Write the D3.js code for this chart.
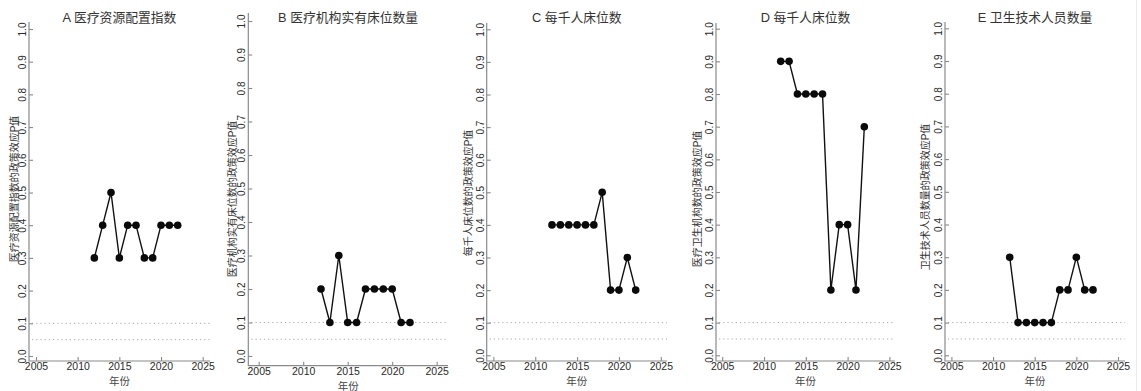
<!DOCTYPE html>
<html>
<head>
<meta charset="utf-8">
<script src="https://cdn.jsdelivr.net/npm/d3@7"></script>
<style>
  html, body { margin: 0; padding: 0; background: #ffffff; }
  svg { display: block; }
  text { font-family: "Liberation Sans", Arial, "Noto Sans CJK SC", sans-serif; }
</style>
</head>
<body>
<svg id="chart" width="1141" height="391"></svg>
<script>
// Yearly P values of the policy effect, one series per indicator
const years = [2012, 2013, 2014, 2015, 2016, 2017, 2018, 2019, 2020, 2021, 2022];
const pA = [0.3, 0.4, 0.5, 0.3, 0.4, 0.4, 0.3, 0.3, 0.4, 0.4, 0.4];
const pB = [0.2, 0.1, 0.3, 0.1, 0.1, 0.2, 0.2, 0.2, 0.2, 0.1, 0.1];
const pC = [0.4, 0.4, 0.4, 0.4, 0.4, 0.4, 0.5, 0.2, 0.2, 0.3, 0.2];
const pD = [0.9, 0.9, 0.8, 0.8, 0.8, 0.8, 0.2, 0.4, 0.4, 0.2, 0.7];
const pE = [0.3, 0.1, 0.1, 0.1, 0.1, 0.1, 0.2, 0.2, 0.3, 0.2, 0.2];

const titles = ["A 医疗资源配置指数", "B 医疗机构实有床位数量", "C 每千人床位数", "D 每千人床位数", "E 卫生技术人员数量"];
const yTitles = ["医疗资源配置指数的政策效应P值", "医疗机构实有床位数的政策效应P值", "每千人床位数的政策效应P值", "医疗卫生机构数的政策效应P值", "卫生技术人员数量的政策效应P值"];
const xTitle = "年份";

const xTicks = [2005, 2010, 2015, 2020, 2025];
const yTicks = [0.0, 0.1, 0.2, 0.3, 0.4, 0.5, 0.6, 0.7, 0.8, 0.9, 1.0];
const refLines = [0.1, 0.05];

const series = [pA, pB, pC, pD, pE];

// Panel frames in pixels: x of 2005/2025, y of 0/1, and the L-shaped box edges
const frames = [
  { xa: 36,    xb: 202.7, ya: 356,   yb: 29,   L: 29,    B: 361,   T: 22, R: 210,  ylx: 14,  yly: 189, xly: 381 },
  { xa: 258.7, xb: 436.7, ya: 356,   yb: 21,   L: 248.3, B: 365.7, T: 13, R: 448,  ylx: 232, yly: 199, xly: 386 },
  { xa: 493.4, xb: 660.8, ya: 355.3, yb: 29.3, L: 486.7, B: 361,   T: 23, R: 667,  ylx: 468, yly: 193, xly: 381 },
  { xa: 722.2, xb: 889.4, ya: 355.3, yb: 28.7, L: 716,   B: 361,   T: 23, R: 895,  ylx: 697, yly: 199, xly: 381 },
  { xa: 951.4, xb: 1118,  ya: 355.3, yb: 28.3, L: 945,   B: 361,   T: 22, R: 1125, ylx: 925, yly: 197, xly: 381 }
];

const svg = d3.select("#chart");
svg.append("rect").attr("width", 1141).attr("height", 391).attr("fill", "#ffffff");

const axisColor = "#8a8a8a";
const textColor = "#2a2a2a";

series.forEach((vals, i) => {
  const f = frames[i];
  const x = d3.scaleLinear().domain([2005, 2025]).range([f.xa, f.xb]);
  const y = d3.scaleLinear().domain([0, 1]).range([f.ya, f.yb]);
  const g = svg.append("g");

  // significance reference lines
  g.selectAll("line.ref").data(refLines).join("line")
    .attr("class", "ref")
    .attr("x1", f.L + 3).attr("x2", f.R)
    .attr("y1", d => y(d)).attr("y2", d => y(d))
    .attr("stroke", "#a8a8a8").attr("stroke-width", 1)
    .attr("stroke-dasharray", "1.2,3");

  // L-shaped box
  g.append("path")
    .attr("d", `M${f.L},${f.T}V${f.B}H${f.R}`)
    .attr("fill", "none").attr("stroke", axisColor).attr("stroke-width", 1.2);

  // y axis: inward ticks, rotated labels
  const ya = g.append("g").attr("transform", `translate(${f.L},0)`)
    .call(d3.axisLeft(y).tickValues(yTicks).tickSize(-4).tickFormat(d3.format(".1f")));
  ya.select(".domain").remove();
  ya.selectAll(".tick line").attr("stroke", axisColor).attr("stroke-width", 1.1);
  ya.selectAll(".tick text")
    .attr("x", 0).attr("y", -3).attr("dy", 0)
    .attr("text-anchor", "middle")
    .attr("transform", "rotate(-90)")
    .attr("fill", textColor)
    .style("font-size", "10px");

  // x axis: inward ticks
  const xa = g.append("g").attr("transform", `translate(0,${f.B})`)
    .call(d3.axisBottom(x).tickValues(xTicks).tickSize(-4).tickPadding(2).tickFormat(d3.format("d")));
  xa.select(".domain").remove();
  xa.selectAll(".tick line").attr("stroke", axisColor).attr("stroke-width", 1.1);
  xa.selectAll(".tick text").attr("fill", textColor).style("font-size", "10.5px");

  // series line and points
  const pts = years.map((yr, k) => [yr, vals[k]]);
  g.append("path")
    .datum(pts)
    .attr("d", d3.line().x(d => x(d[0])).y(d => y(d[1])))
    .attr("fill", "none").attr("stroke", "#111").attr("stroke-width", 1.4);
  g.selectAll("circle").data(pts).join("circle")
    .attr("cx", d => x(d[0])).attr("cy", d => y(d[1]))
    .attr("r", 3.8).attr("fill", "#0a0a0a");

  // titles
  g.append("text")
    .attr("x", (f.L + f.R) / 2).attr("y", 21.5)
    .attr("text-anchor", "middle")
    .attr("fill", "#333").style("font-size", "12.8px")
    .text(titles[i]);

  g.append("text")
    .attr("transform", `translate(${f.ylx},${f.yly}) rotate(-90)`)
    .attr("text-anchor", "middle").attr("dy", "0.35em")
    .attr("fill", "#333").style("font-size", "10px")
    .text(yTitles[i]);

  g.append("text")
    .attr("x", (f.L + f.R) / 2).attr("y", f.xly).attr("dy", "0.35em")
    .attr("text-anchor", "middle")
    .attr("fill", "#444").style("font-size", "10.5px")
    .text(xTitle);
});

// faint frame edge on the right
svg.append("line").attr("x1", 1136.5).attr("x2", 1136.5).attr("y1", 0).attr("y2", 391)
  .attr("stroke", "#ececec").attr("stroke-width", 1);
</script>
</body>
</html>
